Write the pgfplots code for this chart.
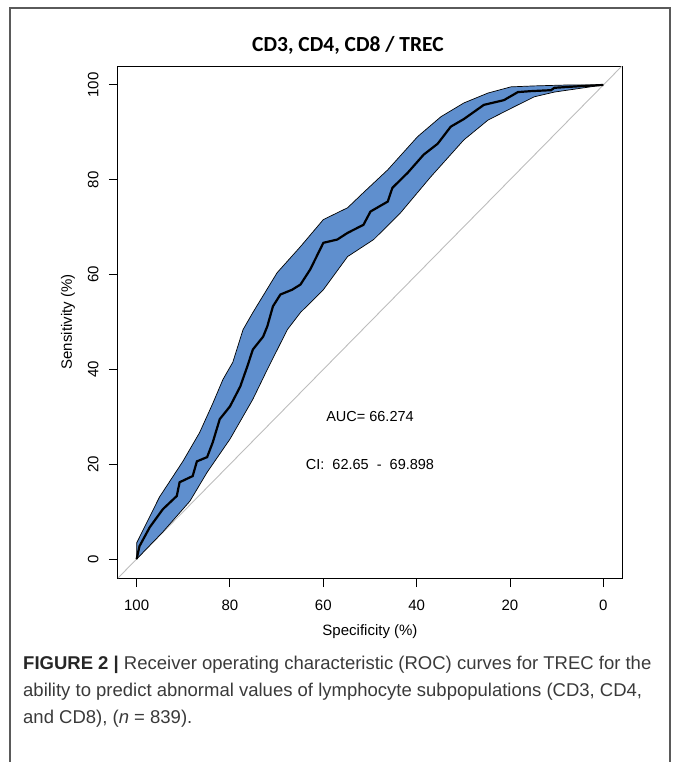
\documentclass[border=0pt]{standalone}
\usepackage{fontspec}
\setmainfont{Liberation Sans}
\newfontfamily\titlefont{Carlito}
\usepackage{pgfplots}
\pgfplotsset{compat=1.18}
\definecolor{bandblue}{HTML}{5F8FCE}
\definecolor{diaggray}{HTML}{BDBDBD}
\definecolor{captext}{HTML}{3A3A3A}
\definecolor{framegray}{HTML}{5A5A5A}

\begin{document}
\begin{tikzpicture}[x=1pt,y=1pt]
\useasboundingbox (0,0) rectangle (672,-762);
\draw[framegray, line width=1.2pt] (10,-780) -- (10,-8) -- (670,-8) -- (670,-780);
\node[font=\titlefont\bfseries\fontsize{21.5}{24}\selectfont] at (348,-45) {CD3, CD4, CD8 / TREC};

\begin{axis}[
  at={(118pt,-578pt)}, anchor=south west,
  scale only axis, width=504pt, height=512pt,
  x dir=reverse,
  xmin=-4, xmax=104, ymin=-4, ymax=104,
  xtick={0,20,...,100}, ytick={0,20,...,100},
  tick align=outside, major tick length=9pt,
  xtick pos=left, ytick pos=left,
  axis line style={line width=1pt},
  tick style={line width=1pt, black},
  /pgf/number format/assume math mode=true,
  ticklabel style={font=\fontsize{15}{17}\selectfont},
  xticklabel shift=9pt,
  yticklabel shift=7pt,
  yticklabel style={rotate=90, anchor=south},
  xlabel={Specificity (\%)}, ylabel={Sensitivity (\%)},
  label style={font=\fontsize{15}{17}\selectfont},
  xlabel style={at={(axis description cs:0.5,-0.1055)}, anchor=center},
  ylabel style={at={(axis description cs:-0.0992,0.5)}, anchor=center},
]
% diagonal reference
\addplot[diaggray, line width=0.9pt] coordinates {(104,-4) (-4,104)};
% confidence band: upper edge then lower edge back
\addplot[fill=bandblue, draw=black, line width=0.7pt] coordinates {
(100,3.4) (95.1,13.1) (90.1,20.6) (86.5,26.7) (83.7,32.8) (81.5,37.9)
(79.4,41.5) (77.2,48.4) (75.1,52.0) (69.9,60.4) (64.9,65.9) (60.0,71.6)
(54.8,74.1) (51.4,77.3) (46.2,82.1) (39.8,89.1) (34.8,93.3) (29.9,96.2)
(24.7,98.3) (19.8,99.6) (14.8,99.8) (7.5,100) (0,100)
(10.5,98.5) (14.8,97.5) (19.1,95.4) (24.7,92.6) (29.9,88.4) (37.0,80.6)
(43.4,73.1) (49.2,67.4) (54.8,63.8) (60.0,56.8) (64.9,52.0) (67.7,48.4)
(72.0,40.0) (75.1,33.7) (80.0,25.3) (84.9,18.3) (88.6,12.2) (94.4,5.7)
(100,0) (100,3.4)
};
% ROC curve
\addplot[black, line width=2.2pt] coordinates {
(100,0) (99.4,2.7) (97.2,6.7) (94.4,10.5) (91.4,13.3) (90.8,16.2) (88.0,17.5)
(87.1,20.6) (84.9,21.5) (83.7,24.6) (82.2,29.5) (80.0,32.2) (77.8,36.4)
(76.3,40.6) (75.1,44.2) (72.9,46.9) (72.0,49.1) (70.8,53.3) (69.2,55.8)
(66.7,56.8) (64.9,57.9) (62.8,61.1) (60.0,66.7) (57.0,67.4) (54.8,68.8)
(51.4,70.5) (49.9,73.3) (46.2,75.4) (45.2,78.3) (41.9,81.5) (38.5,85.3)
(35.5,87.6) (32.7,91.2) (29.9,92.8) (25.6,95.8) (21.3,96.8) (18.3,98.5)
(15.5,98.7) (11.2,98.9) (10.5,99.4) (4.1,99.8) (0,100)
};
\node[font=\fontsize{14.5}{17}\selectfont] at (axis cs:50,30) {AUC= 66.274};
\node[font=\fontsize{14.5}{17}\selectfont] at (axis cs:50,20) {CI:\ \ 62.65\ \ -\ \ 69.898};
\end{axis}

\begin{scope}[font=\fontsize{18.5}{22}\selectfont, color=captext]
\node[anchor=base west, inner sep=0pt] at (23,-669) {\textbf{\color{black!85}FIGURE 2 |} Receiver operating characteristic (ROC) curves for TREC for the};
\node[anchor=base west, inner sep=0pt] at (23,-696) {ability to predict abnormal values of lymphocyte subpopulations (CD3, CD4,};
\node[anchor=base west, inner sep=0pt] at (23,-723) {and CD8), (\textit{n} = 839).};
\end{scope}
\end{tikzpicture}
\end{document}
